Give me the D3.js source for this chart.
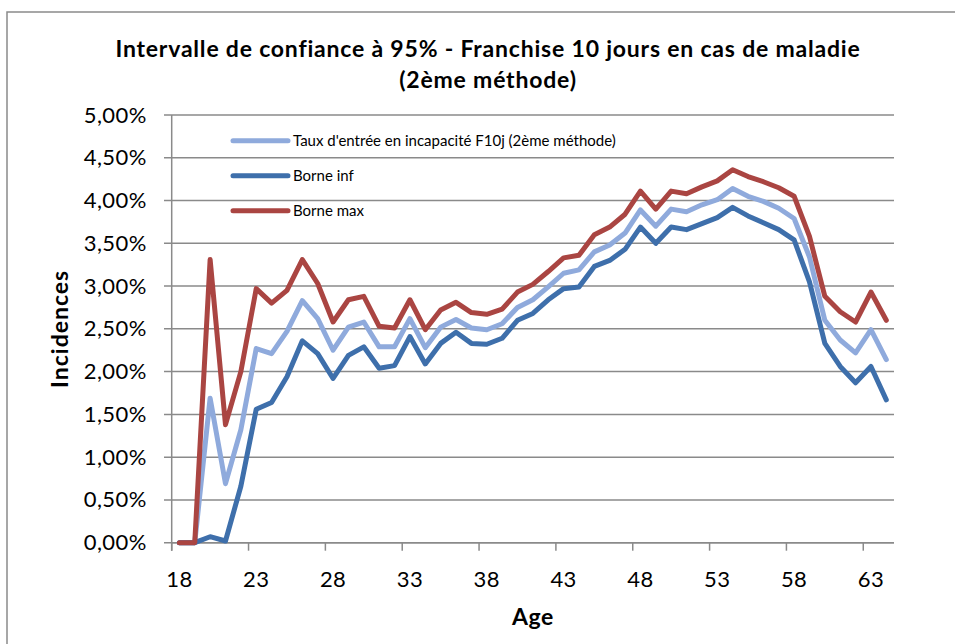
<!DOCTYPE html>
<html>
<head>
<meta charset="utf-8">
<script src="https://cdn.jsdelivr.net/npm/d3@7"></script>
<style>
  body { margin: 0; background: #fff; }
  svg { font-family: Lato, "Open Sans", sans-serif; }
</style>
</head>
<body>
<svg></svg>
<script>
// ages (categories)
var ages = [18,19,20,21,22,23,24,25,26,27,28,29,30,31,32,33,34,35,36,37,38,39,40,41,
            42,43,44,45,46,47,48,49,50,51,52,53,54,55,56,57,58,59,60,61,62,63,64]
// values in %
var taux = [0,0,1.69,0.69,1.32,2.27,2.21,2.47,2.83,2.62,2.25,2.52,2.58,2.29,2.29,2.62,
            2.28,2.52,2.61,2.51,2.49,2.56,2.75,2.84,2.99,3.15,3.19,3.40,3.48,3.62,3.89,3.70,
            3.90,3.87,3.95,4.01,4.14,4.05,3.99,3.91,3.79,3.34,2.60,2.37,2.22,2.49,2.14]
var borneInf = [0,0,0.07,0.02,0.66,1.56,1.64,1.94,2.36,2.21,1.92,2.19,2.29,2.04,2.07,2.41,
            2.09,2.33,2.46,2.33,2.32,2.39,2.60,2.68,2.84,2.97,2.99,3.23,3.30,3.43,3.69,3.50,
            3.69,3.66,3.73,3.80,3.92,3.82,3.74,3.66,3.54,3.05,2.33,2.06,1.87,2.06,1.67]
var borneMax = [0,0,3.31,1.38,2.00,2.97,2.80,2.95,3.31,3.03,2.58,2.84,2.88,2.53,2.51,2.84,
            2.49,2.72,2.81,2.69,2.67,2.73,2.93,3.02,3.17,3.33,3.36,3.60,3.69,3.84,4.11,3.90,
            4.11,4.08,4.16,4.23,4.36,4.28,4.22,4.15,4.05,3.58,2.88,2.70,2.58,2.93,2.60]
var seriesNames = ["Taux d'entrée en incapacité F10j (2ème méthode)", "Borne inf", "Borne max"]
var xTickAges = [18,23,28,33,38,43,48,53,58,63]
var yTicks = [0,0.5,1,1.5,2,2.5,3,3.5,4,4.5,5]

function main(){
    var width = 955
    var height = 644
    var svg = d3.select('svg').attr("width", width).attr("height", height)
    var left = 171.7, right = 894, top = 115, bottom = 542.7
    var colors = ["#8faadc", "#3e6fab", "#aa4542"]
    var gridColor = "#8a8a8a"

    // chart frame
    svg.append("rect")
        .attr("x", 7).attr("y", 12)
        .attr("width", 960).attr("height", 660)
        .attr("fill", "#fff")
        .attr("stroke", gridColor).attr("stroke-width", 1.5)

    var xScale = d3.scaleBand().domain(ages).range([left, right]).padding(0)
    var yScale = d3.scaleLinear().domain([0, 5]).range([bottom, top])
    var fmt = function(d){ return d3.format(".2f")(d).replace(".", ",") + "%" }

    // horizontal gridlines
    svg.append("g")
        .selectAll("line")
        .data(yTicks)
        .join("line")
        .attr("x1", left - 7.7).attr("x2", right)
        .attr("y1", d => yScale(d)).attr("y2", d => yScale(d))
        .attr("stroke", gridColor).attr("stroke-width", 1.5)

    // y axis
    var yAxis = d3.axisLeft(yScale).tickValues(yTicks).tickFormat(fmt).tickSize(0).tickPadding(25)
    var gy = svg.append("g").attr("transform", "translate(" + left + ",0)").call(yAxis)
    gy.select(".domain").remove()
    gy.selectAll("text").attr("font-size", 22).attr("letter-spacing", 0.4)
        .attr("fill", "#000").attr("font-family", "Lato")
    svg.append("line")
        .attr("x1", left).attr("x2", left).attr("y1", top).attr("y2", bottom + 8)
        .attr("stroke", gridColor).attr("stroke-width", 1.5)

    // x axis
    var xAxis = d3.axisBottom(xScale).tickValues(xTickAges).tickSize(0).tickPadding(29)
    var gx = svg.append("g").attr("transform", "translate(0," + bottom + ")").call(xAxis)
    gx.select(".domain").remove()
    gx.selectAll("text").attr("font-size", 22).attr("letter-spacing", 0.4)
        .attr("fill", "#000").attr("font-family", "Lato")
    svg.append("line")
        .attr("x1", left).attr("x2", right).attr("y1", bottom).attr("y2", bottom)
        .attr("stroke", gridColor).attr("stroke-width", 1.5)
    svg.append("g")
        .selectAll("line")
        .data(xTickAges)
        .join("line")
        .attr("x1", d => xScale(d)).attr("x2", d => xScale(d))
        .attr("y1", bottom).attr("y2", bottom + 8)
        .attr("stroke", gridColor).attr("stroke-width", 1.5)

    // lines
    var series = [taux, borneInf, borneMax]
    var line = d3.line()
        .x((d, i) => xScale(ages[i]) + xScale.bandwidth() / 2)
        .y(d => yScale(d))
    svg.append("g")
        .selectAll("path")
        .data(series)
        .join("path")
        .attr("d", d => line(d))
        .attr("fill", "none")
        .attr("stroke", (d, i) => colors[i])
        .attr("stroke-width", 5)
        .attr("stroke-linejoin", "round")
        .attr("stroke-linecap", "round")

    // legend
    var lg = svg.append("g").selectAll("g")
        .data(seriesNames)
        .join("g")
        .attr("transform", (d, i) => "translate(233," + (140.7 + i * 35) + ")")
    lg.append("line")
        .attr("x1", 0).attr("x2", 55).attr("y1", 0).attr("y2", 0)
        .attr("stroke", (d, i) => colors[i]).attr("stroke-width", 5)
        .attr("stroke-linecap", "round")
    lg.append("text")
        .attr("x", 60).attr("y", 0).attr("dy", "0.35em")
        .attr("font-size", 15)
        .text(d => d)

    // titles
    var title = svg.append("text")
        .attr("x", 488).attr("y", 57)
        .attr("text-anchor", "middle")
        .attr("font-size", 23).attr("font-weight", "bold").attr("letter-spacing", 0.8)
    title.append("tspan").attr("x", 488).text("Intervalle de confiance à 95% - Franchise 10 jours en cas de maladie")
    title.append("tspan").attr("x", 488).attr("dy", 31).text("(2ème méthode)")

    svg.append("text")
        .attr("transform", "translate(68," + ((top + bottom) / 2) + ") rotate(-90)")
        .attr("text-anchor", "middle")
        .attr("font-size", 23).attr("font-weight", "bold").attr("letter-spacing", 1)
        .text("Incidences")

    svg.append("text")
        .attr("x", (left + right) / 2).attr("y", 625)
        .attr("text-anchor", "middle")
        .attr("font-size", 23).attr("font-weight", "bold").attr("letter-spacing", 0.5)
        .text("Age")
}
main()
</script>
</body>
</html>
